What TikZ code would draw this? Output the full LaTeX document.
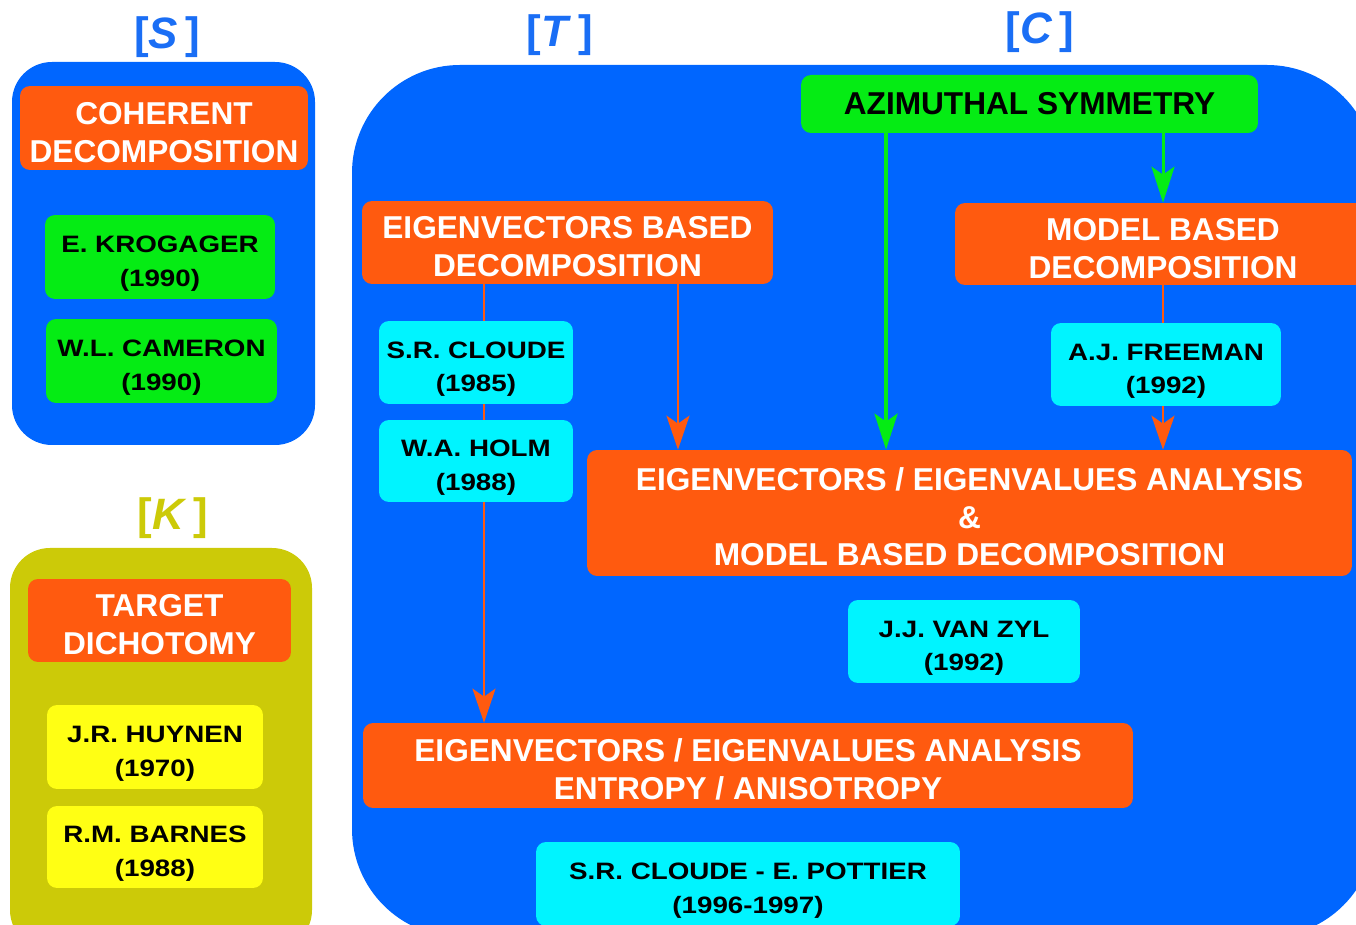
\documentclass[tikz,border=0pt]{standalone}
\usepackage{fontspec}
\setmainfont{Liberation Sans}
\newfontfamily\widesans[FakeStretch=1.17]{Liberation Sans}
\usetikzlibrary{positioning,arrows.meta}
\definecolor{boxblue}{HTML}{0066FF}
\definecolor{boxorange}{HTML}{FF5A0F}
\definecolor{boxgreen}{HTML}{05EC14}
\definecolor{boxcyan}{HTML}{00F4FF}
\definecolor{boxyellow}{HTML}{FFFF14}
\definecolor{boxolive}{HTML}{CCCA08}
\definecolor{tagblue}{HTML}{1A6EF5}
\newcommand{\hstrut}{\rule{0pt}{17.5pt}}
\newcommand{\wstrut}{\rule{0pt}{17pt}}
\pgfdeclarelayer{back}
\pgfdeclarelayer{mid}
\pgfsetlayers{back,mid,main}

\begin{document}
\begin{tikzpicture}[x=0.02cm,y=-0.02cm, every node/.style={align=center,inner sep=2pt},
  headbox/.style={rounded corners=0.2cm,fill=boxorange,text=white,font=\fontsize{18}{21.5}\selectfont\bfseries},
  whobox/.style={rounded corners=0.2cm,text=black,font=\widesans\bfseries\fontsize{13.5}{19.3}\selectfont},
  tagtext/.style={font=\fontsize{25}{30}\selectfont\bfseries},
  oline/.style={draw=boxorange,line width=1.5pt,-{Stealth[length=0.68cm,width=0.46cm,inset=0.16cm]}},
  gline/.style={draw=boxgreen,line width=2.3pt,-{Stealth[length=0.72cm,width=0.46cm,inset=0.16cm]}}]
\useasboundingbox (0,0) rectangle (1356,925);
\node[tagtext,text=tagblue] (ls) at (167,37) {[\textit{S}\,]};
\node[tagtext,text=tagblue] (lt) at (560,35) {[\textit{T}\,]};
\node[tagtext,text=tagblue] (lc) at (1040,32) {[\textit{C}\,]};
\node[tagtext,text=boxolive] (lk) at (173,518) {[\textit{K}\,]};
% [S] and [K] groups
\node[headbox,minimum width=5.76cm,minimum height=1.68cm] (coh) at (164,128) {\hstrut COHERENT\\DECOMPOSITION};
\node[whobox,fill=boxgreen,minimum width=4.6cm,minimum height=1.68cm] (krog) at (160,257) {\wstrut E. KROGAGER\\(1990)};
\node[whobox,fill=boxgreen,minimum width=4.62cm,minimum height=1.68cm] (cam) at (161.5,361) {\wstrut W.L. CAMERON\\(1990)};
\node[headbox,minimum width=5.26cm,minimum height=1.66cm] (tgt) at (159.5,620.5) {\hstrut TARGET\\DICHOTOMY};
\node[whobox,fill=boxyellow,minimum width=4.32cm,minimum height=1.68cm] (huy) at (155,747) {\wstrut J.R. HUYNEN\\(1970)};
\node[whobox,fill=boxyellow,minimum width=4.32cm,minimum height=1.64cm] (barn) at (155,847) {\wstrut R.M. BARNES\\(1988)};
% [T] / [C] group
\node[whobox,fill=boxgreen,font=\fontsize{18}{21.5}\selectfont\bfseries,minimum width=9.14cm,minimum height=1.16cm] (az) at (1029.5,104) {AZIMUTHAL SYMMETRY};
\node[headbox,minimum width=8.22cm,minimum height=1.66cm] (ebd) at (567.5,242.5) {\hstrut EIGENVECTORS BASED\\DECOMPOSITION};
\node[headbox,minimum width=8.32cm,minimum height=1.64cm] (mbd) at (1163,244) {\hstrut MODEL BASED\\DECOMPOSITION};
\node[whobox,fill=boxcyan,minimum width=3.88cm,minimum height=1.66cm] (clo) at (476,362.5) {\wstrut S.R. CLOUDE\\(1985)};
\node[whobox,fill=boxcyan,minimum width=3.88cm,minimum height=1.64cm] (holm) at (476,461) {\wstrut W.A. HOLM\\(1988)};
\node[whobox,fill=boxcyan,minimum width=4.6cm,minimum height=1.66cm] (free) at (1166,364.5) {\wstrut A.J. FREEMAN\\(1992)};
\node[headbox,minimum width=15.3cm,minimum height=2.52cm] (eem) at (969.5,513) {\hstrut EIGENVECTORS / EIGENVALUES ANALYSIS\\\&\\MODEL BASED DECOMPOSITION};
\node[whobox,fill=boxcyan,minimum width=4.64cm,minimum height=1.66cm] (zyl) at (964,641.5) {\wstrut J.J. VAN ZYL\\(1992)};
\node[headbox,minimum width=15.4cm,minimum height=1.7cm] (eea) at (748,765.5) {\hstrut EIGENVECTORS / EIGENVALUES ANALYSIS\\ENTROPY / ANISOTROPY};
\node[whobox,fill=boxcyan,minimum width=8.48cm,minimum height=1.68cm] (pot) at (748,884) {\wstrut S.R. CLOUDE - E. POTTIER\\(1996-1997)};
\begin{pgfonlayer}{back}
\fill[boxblue,rounded corners=0.8cm] (12,62) rectangle (315,445);
\fill[boxolive,rounded corners=0.8cm] (10,548) rectangle (312,950);
\fill[boxblue,rounded corners=2.16cm] (352,65) rectangle (1375,937);
\end{pgfonlayer}
\begin{pgfonlayer}{mid}
\draw[oline] ([xshift=-1.67cm]ebd.south) coordinate (a1) -- (a1 |- eea.north);
\draw[oline] ([xshift=2.21cm]ebd.south) coordinate (a2) -- (a2 |- eem.north);
\draw[gline] ([xshift=-2.87cm]az.south) coordinate (a3) -- (a3 |- eem.north);
\draw[gline,line width=1.7pt] (az.south -| mbd) -- (mbd.north);
\draw[oline] (mbd.south) -- (mbd.south |- eem.north);
\end{pgfonlayer}
\end{tikzpicture}
\end{document}
